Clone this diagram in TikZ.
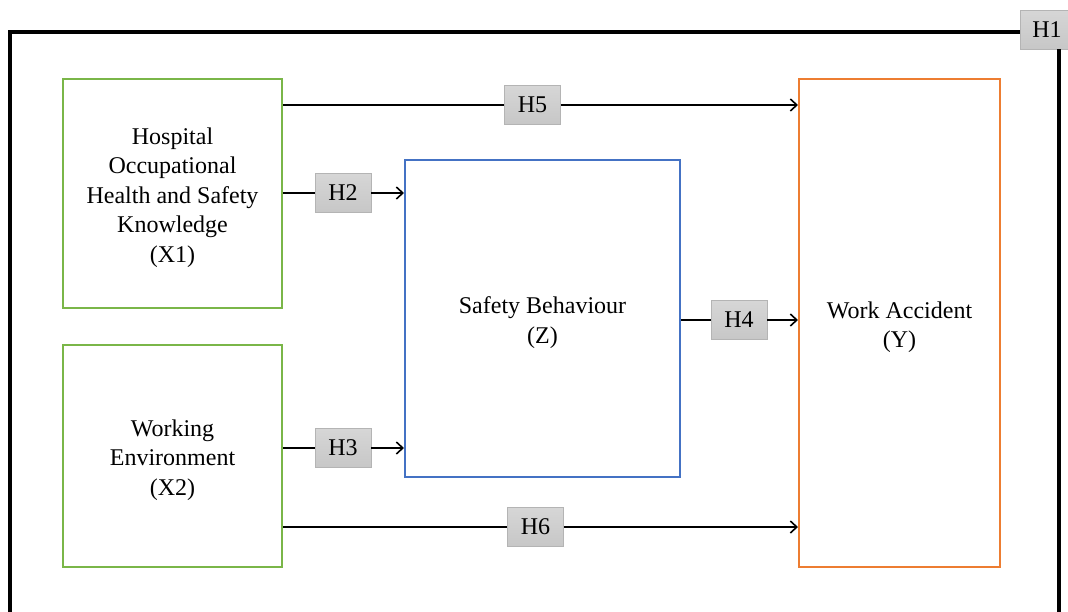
\documentclass[tikz,border=0pt]{standalone}
\usepackage{fontspec}
\setmainfont{Liberation Serif}
\usetikzlibrary{arrows.meta,calc}
\definecolor{boxgreen}{RGB}{122,182,72}
\definecolor{boxblue}{RGB}{68,114,196}
\definecolor{boxorange}{RGB}{237,125,49}
\definecolor{hypborder}{RGB}{180,180,180}
\newcommand{\lowtxt}[1]{\raisebox{-4pt}[\height][\depth]{\begin{tabular}{@{}c@{}}#1\end{tabular}}}
\begin{document}
\begin{tikzpicture}[x=1pt,y=-1pt,
  var/.style={draw,line width=2pt,inner sep=0pt,
    font=\fontsize{24}{29.5}\selectfont},
  hyp/.style={draw=hypborder,line width=0.8pt,top color=gray!32,bottom color=gray!44,
    minimum width=56pt,minimum height=39pt,inner sep=0pt,
    font=\fontsize{24}{29}\selectfont},
  conn/.style={line width=1.6pt},
  arr/.style={conn,-{Straight Barb[length=6.5pt,width=12pt,line width=1.6pt]}},
  frame/.style={line width=3.5pt}]
\useasboundingbox (0,0) rectangle (1068,611);
\node[var,draw=boxgreen,minimum width=219pt,minimum height=229pt] (X1) at (172.5,193.5)
  {\lowtxt{Hospital\\Occupational\\Health and Safety\\Knowledge\\(X1)}};
\node[var,draw=boxgreen,minimum width=219pt,minimum height=222pt] (X2) at (172.5,456)
  {\lowtxt{Working\\Environment\\(X2)}};
\node[var,draw=boxblue,minimum width=275pt,minimum height=317pt] (Z) at (542.5,318.5)
  {\lowtxt{Safety Behaviour\\(Z)}};
\node[var,draw=boxorange,minimum width=201pt,minimum height=488pt] (Y) at (899.5,323)
  {\lowtxt{Work Accident\\(Y)}};
\node[hyp] (H5) at (532.5,105) {H5};
\node[hyp] (H2) at (343,193) {H2};
\node[hyp] (H3) at (343,448) {H3};
\node[hyp] (H4) at (739,320) {H4};
\node[hyp] (H6) at (535.5,527) {H6};
\draw[conn] (X1.east |- H5) -- (H5.west);
\draw[arr] (H5.east) -- (Y.west |- H5);
\draw[conn] (X1.east |- H2) -- (H2.west);
\draw[arr] (H2.east) -- (Z.west |- H2);
\draw[conn] (X2.east |- H3) -- (H3.west);
\draw[arr] (H3.east) -- (Z.west |- H3);
\draw[conn] (Z.east |- H4) -- (H4.west);
\draw[arr] (H4.east) -- (Y.west |- H4);
\draw[conn] (X2.east |- H6) -- (H6.west);
\draw[arr] (H6.east) -- (Y.west |- H6);
\coordinate (tl) at (10,32);
\coordinate (bl) at (10,615);
\coordinate (tr) at (1059,32);
\coordinate (br) at (1059,615);
\node[hyp,minimum width=54pt] (H1) at (1047,29.5) {H1};
\draw[frame] (bl) -- (tl) -- (H1.west |- tl);
\draw[frame] (H1.south -| tr) -- (br);
\end{tikzpicture}
\end{document}
